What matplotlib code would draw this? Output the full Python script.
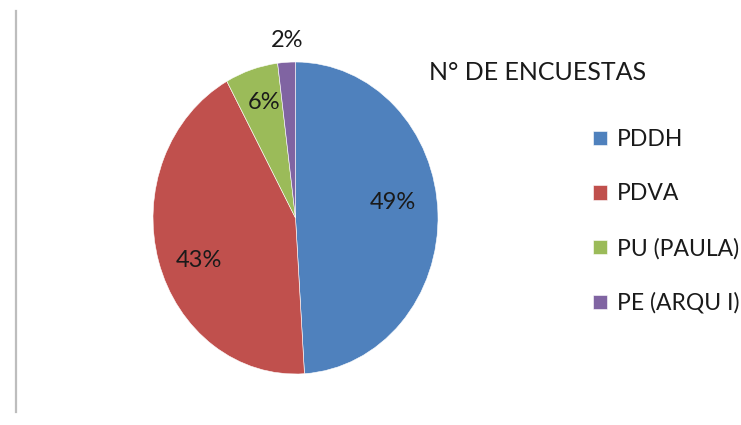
import numpy as np
import matplotlib
matplotlib.use('Agg')
import matplotlib.pyplot as plt
from matplotlib.lines import Line2D

plt.rcParams['font.family'] = ['Lato', 'DejaVu Sans']

# data
labels = ['PDDH', 'PDVA', 'PU (PAULA)', 'PE (ARQU I)']
values = [49, 43, 6, 2]
colors = ['#4F81BD', '#C0504D', '#9BBB59', '#8064A2']
title = 'N° DE ENCUESTAS'

W, H = 741, 425
fig = plt.figure(figsize=(W / 100, H / 100), dpi=100)

# pie is slightly stretched vertically in the reference
ax = fig.add_axes([153 / W, (H - 374) / H, 285 / W, 312 / H])
wedges, texts, autotexts = ax.pie(values, colors=colors, startangle=90, counterclock=False,
                                  autopct='%.0f%%', pctdistance=0.72,
                                  wedgeprops=dict(edgecolor='white', linewidth=0.4),
                                  textprops=dict(fontsize=17, color='#1a1a1a'))
# label placement as in the reference (Excel style)
label_pos = [(0.68, 0.10), (-0.68, -0.27), (-0.22, 0.74), (-0.056, 1.14)]
for t, p in zip(autotexts, label_pos):
    t.set_position(p)
ax.set_aspect('auto')
ax.set_xlim(-1, 1)
ax.set_ylim(-1, 1)
ax.axis('off')

fig.text(429 / W, 1 - 72 / H, title, fontsize=18, color='#1a1a1a', va='center', ha='left')

leg = fig.legend(wedges, labels, loc='upper left', bbox_to_anchor=(584 / W, 1 - 120 / H),
                 frameon=False, fontsize=16.5, handlelength=0.6, handleheight=0.6,
                 handletextpad=0.45, labelspacing=1.45, borderaxespad=0)
for t in leg.get_texts():
    t.set_color('#1a1a1a')

fig.add_artist(Line2D([15.5 / W, 15.5 / W], [1 - 11 / H, 1 - 412 / H],
                      color='#BDBDBD', linewidth=1.6))

fig.savefig('out.png', dpi=100)
